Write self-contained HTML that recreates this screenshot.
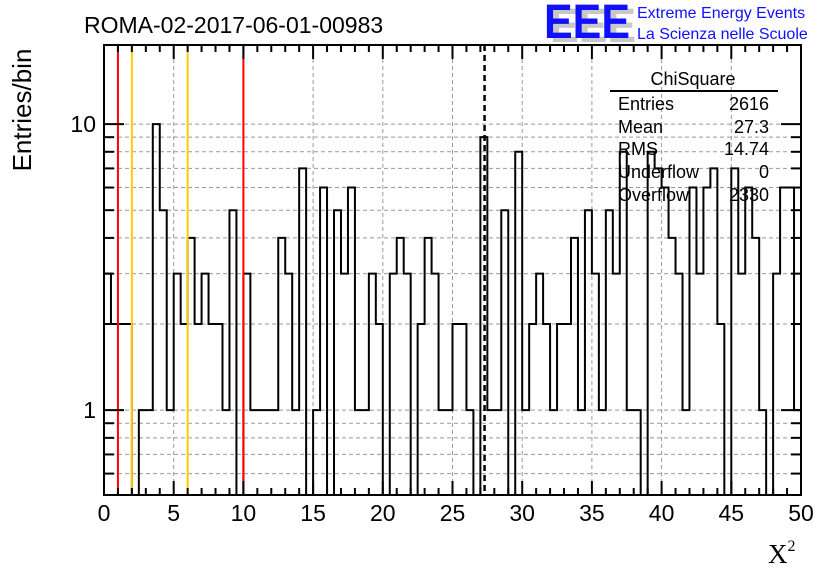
<!DOCTYPE html>
<html><head><meta charset="utf-8"><style>
body{margin:0;background:#fff;}
svg text{font-family:"Liberation Sans",sans-serif;}
</style></head><body>
<svg id="chart" width="836" height="572" xmlns="http://www.w3.org/2000/svg">
<rect width="836" height="572" fill="#fff"/>
<g id="grid"></g>
<g id="marks"></g>
<g id="axes"></g>
<text x="84" y="33" font-size="23">ROMA-02-2017-06-01-00983</text>
<g>
<text x="550" y="42" font-size="48" font-weight="bold" fill="#c8c8c8" textLength="86" lengthAdjust="spacingAndGlyphs">EEE</text>
<text x="544" y="38" font-size="48" font-weight="bold" fill="#1010ff" textLength="86" lengthAdjust="spacingAndGlyphs">EEE</text>
<text x="637" y="18" font-size="16" fill="#1010ff">Extreme Energy Events</text>
<text x="637" y="39" font-size="16" fill="#1010ff">La Scienza nelle Scuole</text>
</g>
<text transform="translate(31,110) rotate(-90)" text-anchor="middle" font-size="26">Entries/bin</text>
<text x="768" y="563" font-size="27" style="font-family:'Liberation Serif',serif">X<tspan font-size="16" dy="-12">2</tspan></text>
<g font-size="18">
<text x="693" y="85" text-anchor="middle">ChiSquare</text>
<line x1="610" y1="91" x2="778" y2="91" stroke="#000" stroke-width="2"/>
<text x="618" y="110">Entries</text><text x="769" y="110" text-anchor="end">2616</text>
<text x="618" y="133">Mean</text><text x="769" y="133" text-anchor="end">27.3</text>
<text x="618" y="155">RMS</text><text x="769" y="155" text-anchor="end">14.74</text>
<text x="618" y="178">Underflow</text><text x="769" y="178" text-anchor="end">0</text>
<text x="618" y="201">Overflow</text><text x="769" y="201" text-anchor="end">2330</text>
</g>
</svg>
<script>
const counts=[3,2,2,2,0,1,1,10,5,1,3,2,4,2,3,2,2,1,5,0,3,1,1,1,1,4,3,1,7,0,1,6,0,5,3,6,1,1,3,2,0,3,4,3,0,2,4,3,1,1,2,2,1,0,9,1,1,5,0,8,1,2,3,2,1,2,2,4,1,5,3,1,5,3,8,1,1,0,8,7,6,4,3,1,6,3,6,7,2,0,7,3,6,4,1,0,3,6,6,1];
const binWidth=0.5;
const xTickLabels=[0,5,10,15,20,25,30,35,40,45,50];
const yTickLabels=[1,10];
const redLines=[1,10];
const yellowLines=[2,6];
const meanValue=27.3;
const X0=104,X1=801,Y0=45,Y1=495,XMAX=50,YMIN=0.505,YMAX=18.9;
const xs=v=>X0+(X1-X0)*v/XMAX;
const ys=v=>{if(v<=0)return Y1;const y=Y1-(Y1-Y0)*(Math.log10(v)-Math.log10(YMIN))/(Math.log10(YMAX)-Math.log10(YMIN));return Math.max(Y0,Math.min(Y1,y));};
const NS='http://www.w3.org/2000/svg';
function mk(tag,parent,attrs){const e=document.createElementNS(NS,tag);for(const k in attrs)e.setAttribute(k,attrs[k]);parent.appendChild(e);return e;}
const grid=document.getElementById('grid'),marks=document.getElementById('marks'),axes=document.getElementById('axes');
for(let v=5;v<50;v+=5){const g=mk('line',grid,{x1:xs(v),x2:xs(v),y1:Y0,y2:Y1,stroke:'#999','stroke-dasharray':'4,3','stroke-width':1});

}
const yg=[0.6,0.7,0.8,0.9,1,2,3,4,5,6,7,8,9,10];
yg.forEach(v=>{const g=mk('line',grid,{x1:X0,x2:X1,y1:ys(v),y2:ys(v),stroke:'#999','stroke-dasharray':'4,3','stroke-width':1});

});
let d='M'+xs(0)+','+Y1;
counts.forEach((c,i)=>{const y=ys(c);d+=' L'+xs(i*binWidth)+','+y+' L'+xs((i+1)*binWidth)+','+y;});
d+=' L'+xs(counts.length*binWidth)+','+Y1;
const h=mk('path',marks,{d:d,fill:'none',stroke:'#000','stroke-width':2});


redLines.forEach(v=>{const l=mk('line',marks,{x1:xs(v),x2:xs(v),y1:Y0,y2:Y1,stroke:'#ff0000','stroke-width':2});

});
yellowLines.forEach(v=>{const l=mk('line',marks,{x1:xs(v),x2:xs(v),y1:Y0,y2:Y1,stroke:'#ffcc00','stroke-width':2});

});
const ml=mk('line',marks,{x1:xs(meanValue),x2:xs(meanValue),y1:Y0,y2:Y1,stroke:'#000','stroke-width':2.5,'stroke-dasharray':'6,4'});


const fr=mk('rect',axes,{x:X0,y:Y0,width:X1-X0,height:Y1-Y0,fill:'none',stroke:'#000','stroke-width':2});


for(let v=0;v<=50;v+=1){const len=v%5===0?14:7;
mk('line',axes,{x1:xs(v),x2:xs(v),y1:Y1,y2:Y1-len,stroke:'#000','stroke-width':2});
mk('line',axes,{x1:xs(v),x2:xs(v),y1:Y0,y2:Y0+len,stroke:'#000','stroke-width':2});}
xTickLabels.forEach(v=>{const t=mk('text',axes,{x:xs(v),y:521,'text-anchor':'middle','font-size':23});t.textContent=v;

});
const yt=[0.6,0.7,0.8,0.9,1,2,3,4,5,6,7,8,9,10];
yt.forEach(v=>{const len=(v===1||v===10)?20:10;
mk('line',axes,{x1:X0,x2:X0+len,y1:ys(v),y2:ys(v),stroke:'#000','stroke-width':2});
mk('line',axes,{x1:X1,x2:X1-len,y1:ys(v),y2:ys(v),stroke:'#000','stroke-width':2});});
yTickLabels.forEach(v=>{const t=mk('text',axes,{x:96,y:ys(v)+8,'text-anchor':'end','font-size':23});t.textContent=v;

});
</script>
</body></html>
